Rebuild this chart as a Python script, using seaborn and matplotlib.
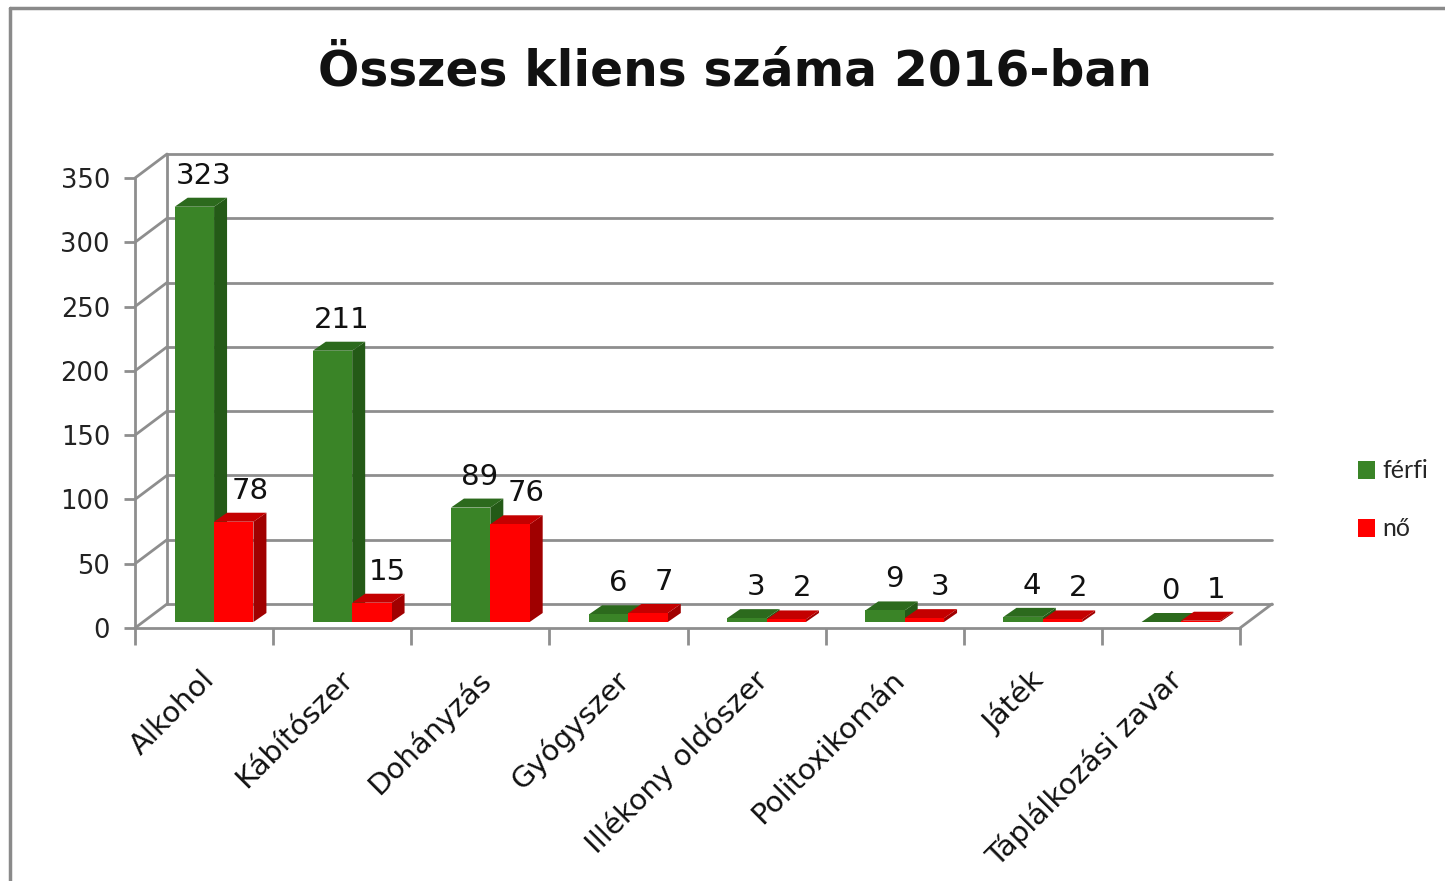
import matplotlib
matplotlib.use("Agg")
import matplotlib.pyplot as plt
import seaborn as sns
import pandas as pd
from matplotlib.patches import Polygon
from matplotlib.lines import Line2D
from matplotlib.transforms import Affine2D, IdentityTransform

# adatok
kategoriak = ['Alkohol', 'Kábítószer', 'Dohányzás', 'Gyógyszer',
              'Illékony oldószer', 'Politoxikomán', 'Játék', 'Táplálkozási zavar']
ferfi = [323, 211, 89, 6, 3, 9, 4, 0]
no = [78, 15, 76, 7, 2, 3, 2, 1]
nemek = ['férfi', 'nő']
y_ticks = [0, 50, 100, 150, 200, 250, 300, 350]

df = pd.DataFrame({'Kategória': kategoriak * 2,
                   'Nem': ['férfi'] * len(kategoriak) + ['nő'] * len(kategoriak),
                   'Kliensek': ferfi + no})

sns.set_theme(style="white")
plt.rcParams['font.family'] = ['DejaVu Sans']

elo = {'férfi': '#3A8427', 'nő': '#FF0000'}
oldal = {'férfi': '#245A17', 'nő': '#A00000'}
teto = {'férfi': '#2C6A1D', 'nő': '#C40000'}
racs = '#8E8E8E'

fig = plt.figure(figsize=(14.45, 8.81), dpi=100)
W, H = 1445, 881
ax = fig.add_axes([135 / W, 1 - 628 / H, (1240 - 135) / W, 450 / H])

sns.barplot(data=df, x='Kategória', y='Kliensek', hue='Nem', palette=elo,
            width=0.57, linewidth=0, saturation=1, ax=ax, zorder=3)
ax.set_xlim(-0.5, len(kategoriak) - 0.5)
ax.set_ylim(0, 350)
ax.set_yticks(y_ticks)
ax.set_xlabel('')
ax.set_ylabel('')
for s in ['top', 'right']:
    ax.spines[s].set_visible(False)
for s in ['left', 'bottom']:
    ax.spines[s].set_color(racs)
    ax.spines[s].set_linewidth(2)
ax.patch.set_alpha(0)

fig.canvas.draw()

# térhatás: hátsó fal, rács, padló
fal_dx, fal_dy = 32, 24
for v in y_ticks:
    p = ax.transData.transform((-0.5, v))
    q = ax.transData.transform((len(kategoriak) - 0.5, v))
    ax.add_line(Line2D([p[0], p[0] + fal_dx], [p[1], p[1] + fal_dy], color=racs, lw=2,
                       transform=IdentityTransform(), clip_on=False, zorder=1))
    ax.add_line(Line2D([p[0] + fal_dx, q[0] + fal_dx], [p[1] + fal_dy, q[1] + fal_dy], color=racs, lw=2,
                       transform=IdentityTransform(), clip_on=False, zorder=1))
p0 = ax.transData.transform((-0.5, 0))
p1 = ax.transData.transform((-0.5, 350))
ax.add_line(Line2D([p0[0] + fal_dx, p1[0] + fal_dx], [p0[1] + fal_dy, p1[1] + fal_dy], color=racs, lw=2,
                   transform=IdentityTransform(), clip_on=False, zorder=1))
r0 = ax.transData.transform((len(kategoriak) - 0.5, 0))
ax.add_line(Line2D([r0[0], r0[0] + fal_dx], [r0[1], r0[1] + fal_dy], color=racs, lw=2,
                   transform=IdentityTransform(), clip_on=False, zorder=1))

# oszlopok térhatása
eltol_x, eltol_y = 10, 6
mely_x, mely_y = 13, 9
cimke_dx = {'férfi': 19, 'nő': 26}
for nem, cont in zip(nemek, ax.containers):
    for bar in cont:
        bar.set_transform(ax.transData + Affine2D().translate(eltol_x, eltol_y))
        x, w, h = bar.get_x(), bar.get_width(), bar.get_height()
        a = ax.transData.transform((x, 0)) + (eltol_x, eltol_y)
        b = ax.transData.transform((x + w, h)) + (eltol_x, eltol_y)
        side = [(b[0], a[1]), (b[0] + mely_x, a[1] + mely_y), (b[0] + mely_x, b[1] + mely_y), (b[0], b[1])]
        top = [(a[0], b[1]), (b[0], b[1]), (b[0] + mely_x, b[1] + mely_y), (a[0] + mely_x, b[1] + mely_y)]
        ax.add_patch(Polygon(side, closed=True, fc=oldal[nem], ec='none',
                             transform=IdentityTransform(), clip_on=False, zorder=2))
        ax.add_patch(Polygon(top, closed=True, fc=teto[nem], ec='none',
                             transform=IdentityTransform(), clip_on=False, zorder=2))
        ax.annotate(f'{int(h)}', (x + w / 2, h), xytext=(cimke_dx[nem], 29),
                    textcoords='offset pixels', ha='center', va='baseline',
                    fontsize=21, color='#111111')

# tengelyek
ax.tick_params(axis='y', which='major', length=8, width=2, color=racs, direction='out',
               labelsize=18.5, labelcolor='#222222', left=True, pad=10)
ax.set_xticks([i - 0.5 for i in range(len(kategoriak) + 1)], minor=True)
ax.tick_params(axis='x', which='minor', length=12, width=2, color=racs, direction='out', bottom=True)
ax.tick_params(axis='x', which='major', length=0, pad=27)
ax.set_xticks(range(len(kategoriak)))
ax.set_xticklabels(kategoriak, rotation=45, ha='right', rotation_mode='anchor',
                   fontsize=21, color='#111111')
for lab in ax.get_xticklabels():
    lab.set_transform(lab.get_transform() + Affine2D().translate(-4, 0))

# jelmagyarázat
handles, labels = ax.get_legend_handles_labels()
if ax.legend_:
    ax.legend_.remove()
fig.legend(handles, labels, loc='center left', bbox_to_anchor=(1335 / W, 1 - 500 / H),
           frameon=False, handlelength=0.7, handleheight=0.7, handletextpad=0.3,
           labelspacing=1.4, prop={'family': 'Lato', 'size': 18})

# cím
fig.text(735 / W, 1 - 72 / H, 'Összes kliens száma 2016-ban', ha='center', va='center',
         fontsize=35, fontweight='bold', color='#111111')

# keret
fig.add_artist(Line2D([10 / W, 10 / W], [0, 1 - 8 / H], color='#8A8A8A', lw=2.5))
fig.add_artist(Line2D([10 / W, 1], [1 - 8 / H, 1 - 8 / H], color='#8A8A8A', lw=2.5))

fig.savefig('out.png', dpi=100, facecolor='white')
